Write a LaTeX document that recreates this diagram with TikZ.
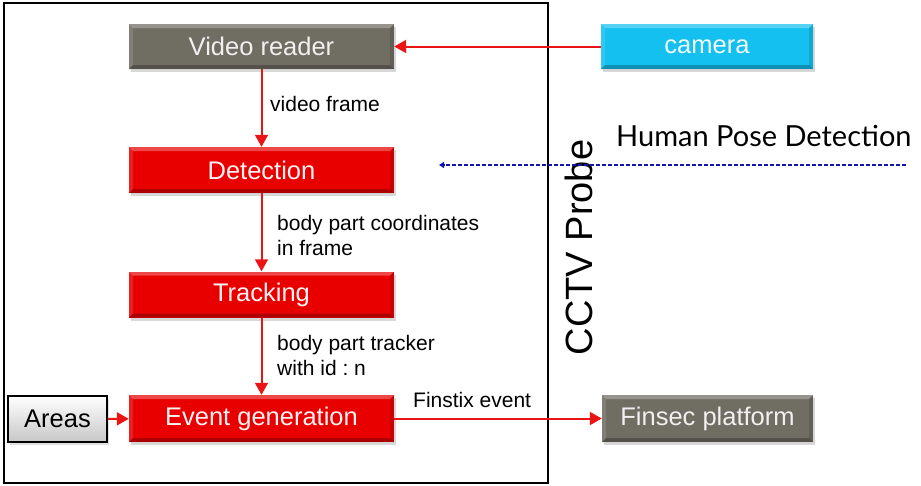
\documentclass[tikz,border=0pt]{standalone}
\usepackage{fontspec}
\setmainfont{Liberation Sans}
\newfontfamily\latofont{Lato}
\usetikzlibrary{arrows.meta,shadows}
\frenchspacing

\definecolor{boxgray}{RGB}{112,109,99}
\definecolor{boxred}{RGB}{232,0,0}
\definecolor{boxcyan}{RGB}{20,192,240}
\definecolor{flowred}{RGB}{235,20,20}
\definecolor{posenavy}{RGB}{20,20,170}

\tikzset{
  bevel/.style={
    path picture={
      \fill[white,opacity=0.28]
        (path picture bounding box.north west) -- (path picture bounding box.north east)
        -- ([xshift=-4pt,yshift=-4pt]path picture bounding box.north east)
        -- ([xshift=4pt,yshift=-4pt]path picture bounding box.north west) -- cycle;
      \fill[white,opacity=0.12]
        (path picture bounding box.north west) -- ([xshift=4pt,yshift=-4pt]path picture bounding box.north west)
        -- ([xshift=4pt,yshift=4pt]path picture bounding box.south west)
        -- (path picture bounding box.south west) -- cycle;
      \fill[black,opacity=0.25]
        (path picture bounding box.south west) -- (path picture bounding box.south east)
        -- ([xshift=-4pt,yshift=4pt]path picture bounding box.south east)
        -- ([xshift=4pt,yshift=4pt]path picture bounding box.south west) -- cycle;
      \fill[black,opacity=0.12]
        (path picture bounding box.north east) -- ([xshift=-4pt,yshift=-4pt]path picture bounding box.north east)
        -- ([xshift=-4pt,yshift=4pt]path picture bounding box.south east)
        -- (path picture bounding box.south east) -- cycle;
    }},
  blockbase/.style={rectangle, inner sep=0pt, bevel,
    font=\fontsize{25.5}{28}\selectfont,
    drop shadow={opacity=0.3, shadow xshift=2pt, shadow yshift=-3pt}},
  graybox/.style={blockbase, fill=boxgray, text=white!94!black,
    minimum width=265pt, minimum height=45pt},
  redbox/.style={blockbase, fill=boxred, text=white!95!red,
    minimum width=265pt, minimum height=46pt},
  cyanbox/.style={blockbase, fill=boxcyan, text=white!95!cyan,
    minimum width=212pt, minimum height=45pt},
  areabox/.style={rectangle, draw=black, line width=1.5pt, inner sep=0pt,
    top color=white, bottom color=black!22,
    font=\fontsize{25.5}{28}\selectfont,
    minimum width=99pt, minimum height=46pt,
    drop shadow={opacity=0.25, shadow xshift=2pt, shadow yshift=-3pt}},
  flow/.style={draw=flowred, line width=2pt,
    -{Triangle[length=12pt,width=13pt]}},
  poseflow/.style={draw=posenavy, line width=1.3pt,
    dash pattern=on 4pt off 2pt, -{Triangle[length=5pt,width=6pt]}},
  flowlabel/.style={anchor=west, inner sep=0pt, align=left,
    font=\fontsize{21}{25}\selectfont}
}

\begin{document}
\begin{tikzpicture}[x=1pt,y=-1pt]
  \useasboundingbox[fill=white] (0,0) rectangle (921,485);

  % probe boundary
  \draw[line width=1.5pt] (4,3) rectangle (548,483);

  % pipeline blocks
  \node[graybox] (reader) at (261.5,46.5) {Video reader};
  \node[redbox] (detect) at (261.5,170) {Detection};
  \node[redbox] (track) at (261.5,294.5) {Tracking};
  \node[redbox, minimum height=47pt] (event) at (261.5,418.5) {Event generation};
  \node[areabox] (areas) at (57.5,419) {Areas};

  % external blocks
  \node[cyanbox] (camera) at (707,46.5) {camera};
  \node[graybox, minimum width=211pt, minimum height=47pt] (finsec) at (707.5,418.5) {Finsec platform};

  % data flow
  \draw[flow] (camera) -- (reader);
  \draw[flow] (reader) -- (detect);
  \draw[flow] (detect) -- (track);
  \draw[flow] (track) -- (event);
  \draw[flow] (areas) -- (event);
  \draw[flow] (event) -- (finsec);

  % flow labels
  \node[flowlabel] (lblframe) at (270,104) {video frame};
  \node[flowlabel] (lblcoord) at (277,235.5) {body part coordinates\\in frame};
  \node[flowlabel] (lbltrack) at (277,355.5) {body part tracker\\with id : n};
  \node[flowlabel] (lblevent) at (413,400) {Finstix event};

  % probe title
  \node[rotate=90, anchor=base, inner sep=0pt,
        font=\fontsize{38}{40}\selectfont] (probe) at (592,247.5) {CCTV Probe};

  % pose detection hint
  \node[anchor=base west, inner sep=0pt,
        font=\latofont\fontsize{29}{32}\selectfont] (pose) at (616,146) {Human Pose Detection};
  \coordinate (poseA) at (906,165);
  \coordinate (poseB) at (439,165);
  \draw[poseflow] (poseA) -- (poseB);
\end{tikzpicture}
\end{document}
